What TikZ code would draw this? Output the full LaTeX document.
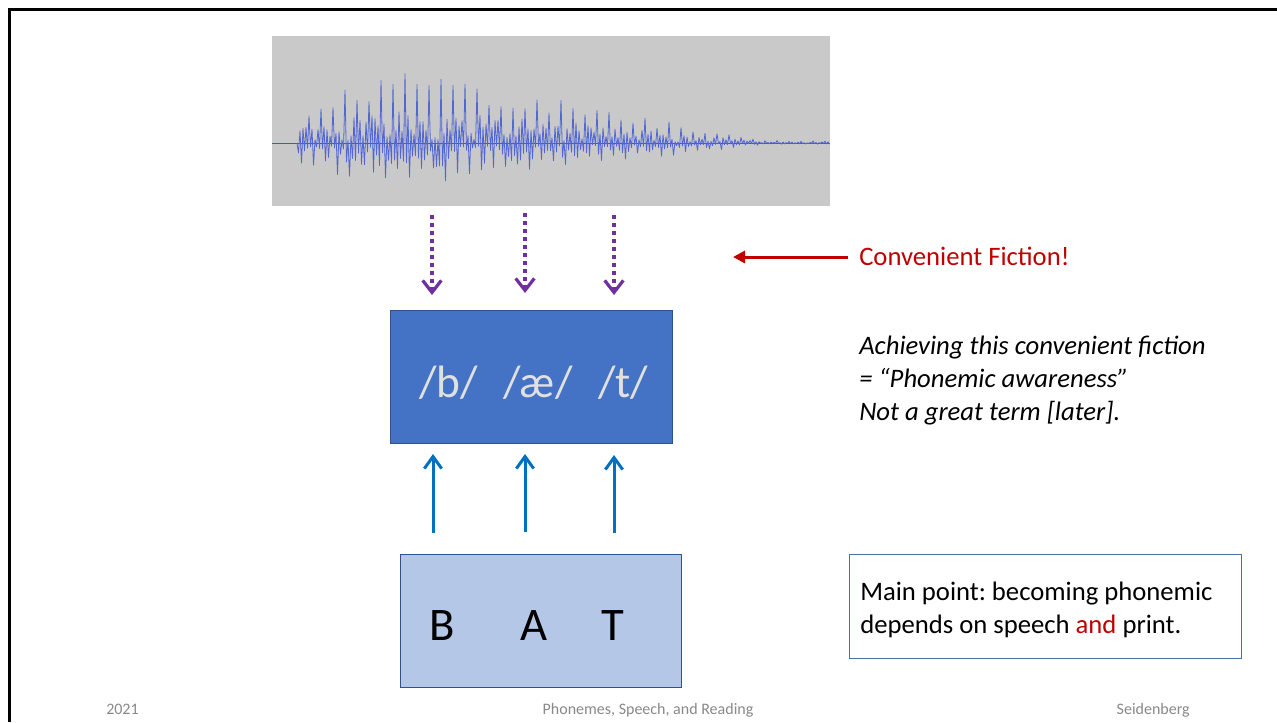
\documentclass[tikz,border=0pt]{standalone}
\usepackage{fontspec}
\setmainfont{Carlito}
\usetikzlibrary{arrows.meta}
\frenchspacing

\definecolor{wavebg}{HTML}{C9C9C9}
\definecolor{wavecol}{HTML}{5266D6}
\definecolor{axiscol}{HTML}{4A58A8}
\definecolor{phonfill}{HTML}{4472C4}
\definecolor{boxedge}{HTML}{2F528F}
\definecolor{phontext}{HTML}{E0E0E0}
\definecolor{letterfill}{HTML}{B4C7E7}
\definecolor{notedge}{HTML}{4F6DA8}
\definecolor{fictionred}{HTML}{C00000}
\definecolor{mappurple}{HTML}{7030A0}
\definecolor{printblue}{HTML}{0070C0}
\definecolor{footgray}{HTML}{898989}

\begin{document}
\begin{tikzpicture}[x=0.75pt,y=-0.75pt,
  declare function={
    env(\t) = (\t<100) ? (38+0.38*\t) : max(76-0.2*(\t-100),2.5);
  },
  boxnode/.style={inner sep=0pt,outer sep=0pt,line width=0.75pt},
  phoneme/.style={font=\fontsize{34}{40}\selectfont,text=phontext,anchor=base west,inner sep=0pt},
  letter/.style={font=\fontsize{35}{40}\selectfont,anchor=base west,inner sep=0pt},
  soundmap/.style={mappurple,line width=2.6pt,dash pattern=on 3pt off 3pt,
    -{Straight Barb[length=9pt,width=14pt,line width=2.4pt]}},
  printmap/.style={printblue,line width=2.25pt,
    -{Straight Barb[length=9pt,width=13pt,line width=2.25pt]}},
  body/.style={font=\fontsize{20}{25}\selectfont,anchor=base west,inner sep=0pt},
  footer/.style={font=\fontsize{12}{14}\selectfont,text=footgray,inner sep=0pt,anchor=base}
]
\useasboundingbox (0,0) rectangle (1277,722);
\fill[white] (0,0) rectangle (1277,722);

% slide frame
\draw[line width=2.25pt] (9,722) -- (9,9) -- (1277,9);

% speech waveform panel
\node[boxnode,fill=wavebg,minimum width=418.5pt,minimum height=127.5pt] (wave) at (551,121) {};
\draw[axiscol,line width=0.75pt] (272,143) -- (830,143);
\pgfmathsetseed{11}
\draw[wavecol,line width=0.6pt,line join=round] (297,143)
  \foreach \i [evaluate=\i as \yy using {143 - (mod(\i,2)==0
      ? env(1.5*\i)*((mod(\i,8)==0) ? (0.6+0.4*rnd) : (0.05+0.45*rnd))
      : -0.6*env(1.5*\i)*((mod(\i,8)==3) ? (0.55+0.45*rnd) : (0.08+0.5*rnd)))}]
    in {1,...,355} { -- ({297+1.5*\i},\yy) };

% phoneme box
\node[boxnode,draw=boxedge,fill=phonfill,minimum width=211.5pt,minimum height=99.75pt] (phon) at (531,376.5) {};
\node[phoneme] (pb) at (419,397) {/b/};
\node[phoneme] (pae) at (503,397) {/æ/};
\node[phoneme] (pt) at (598,397) {/t/};

% letter box
\node[boxnode,draw=boxedge,fill=letterfill,minimum width=210.75pt,minimum height=99.75pt] (print) at (540.5,620.5) {};
\node[letter] (lb) at (429,640) {B};
\node[letter] (la) at (520,640) {A};
\node[letter] (lt) at (601,640) {T};

% segmentation arrows: speech -> phonemes
\coordinate (s1) at (432,215); \coordinate (e1) at (432,295);
\coordinate (s2) at (525,213); \coordinate (e2) at (525,293);
\coordinate (s3) at (614,215); \coordinate (e3) at (614,295);
\draw[soundmap] (s1) -- (e1);
\draw[soundmap] (s2) -- (e2);
\draw[soundmap] (s3) -- (e3);

% print arrows: letters -> phonemes
\coordinate (u1) at (433,533); \coordinate (v1) at (433,454);
\coordinate (u2) at (525,532); \coordinate (v2) at (525,454);
\coordinate (u3) at (614,533); \coordinate (v3) at (614,455);
\draw[printmap] (u1) -- (v1);
\draw[printmap] (u2) -- (v2);
\draw[printmap] (u3) -- (v3);

% convenient fiction callout
\node[font=\fontsize{20}{24}\selectfont,text=fictionred,anchor=base west,inner sep=0pt] (fiction) at (859,265) {Convenient Fiction!};
\coordinate (cf) at (848,257);
\coordinate (ct) at (733,257);
\draw[fictionred,line width=2.25pt,-{Triangle[length=9pt,width=9pt]}] (cf) -- (ct);

% commentary
\node[body] (c1) at (859,354) {\itshape Achieving this convenient fiction};
\node[body] (c2) at (859,387) {\itshape = “Phonemic awareness”};
\node[body] (c3) at (859,420) {\itshape Not a great term [later].};

% main point box
\node[boxnode,draw=notedge,minimum width=294pt,minimum height=78pt] (note) at (1045,606) {};
\node[body] (n1) at (860,600) {Main point: becoming phonemic};
\node[body] (n2) at (860,633) {depends on speech \textcolor{fictionred}{and} print.};

% footer
\node[footer,anchor=base west] (fdate) at (106,714) {2021};
\node[footer] (ftitle) at (648,714) {Phonemes, Speech, and Reading};
\node[footer,anchor=base east] (fauthor) at (1190,714) {Seidenberg};
\end{tikzpicture}
\end{document}
